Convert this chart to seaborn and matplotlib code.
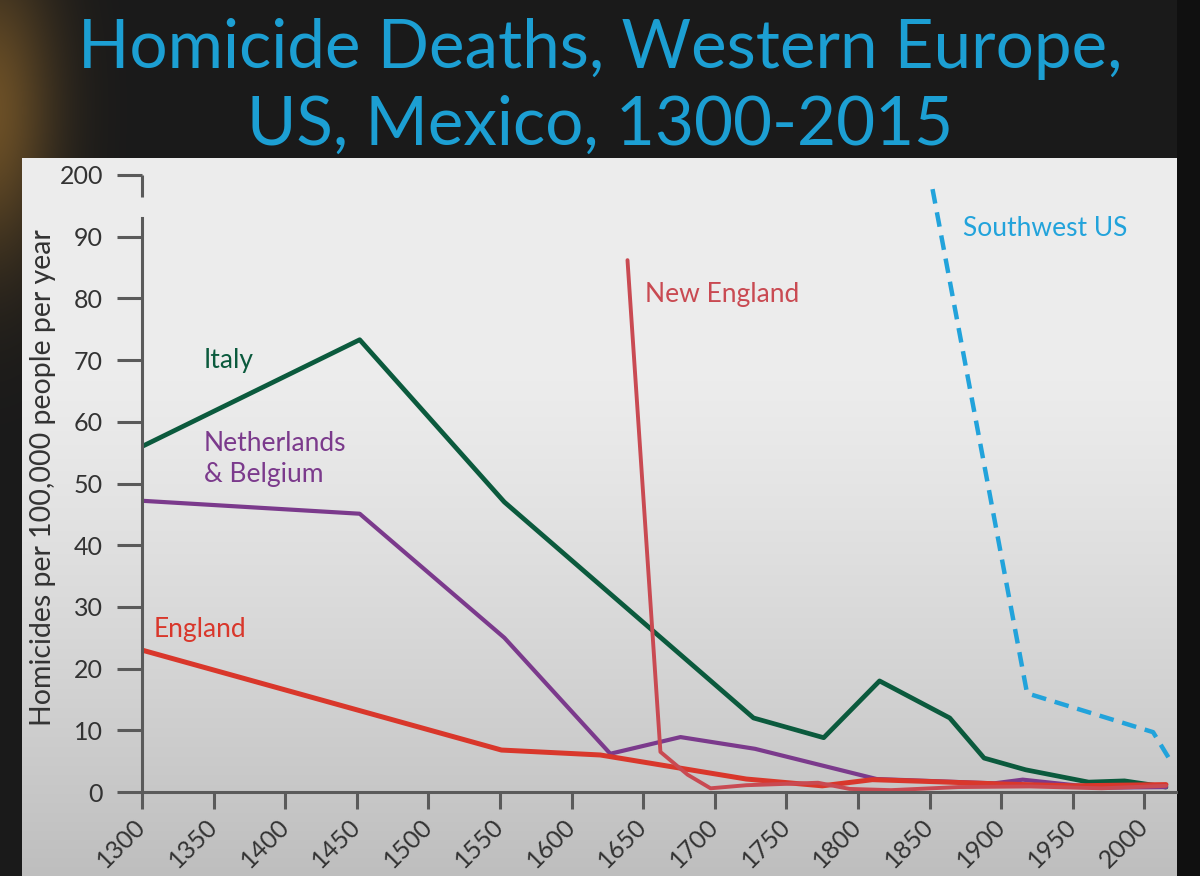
import numpy as np
import pandas as pd
import matplotlib
matplotlib.use('agg')
import matplotlib.pyplot as plt
import seaborn as sns

# values (rate per 100,000 people per year)
years_italy = [1300, 1452, 1553, 1727, 1776, 1815, 1864, 1888, 1917, 1961, 1986, 2015]
italy = [56, 73.3, 47, 12, 8.8, 18, 12, 5.5, 3.6, 1.6, 1.8, 0.8]

years_nl = [1300, 1452, 1553, 1627, 1676, 1728, 1813, 1895, 1915, 1967, 2015]
nl = [47.2, 45.1, 25, 6.2, 8.9, 7, 2.1, 1.4, 2, 0.7, 0.8]

years_eng = [1300, 1551, 1620, 1722, 1775, 1810, 1850, 1900, 1950, 2015]
eng = [23, 6.8, 6.0, 2.1, 1.0, 2.0, 1.7, 1.3, 1.0, 1.2]

years_ne = [1639, 1662, 1681, 1697, 1722, 1772, 1794, 1823, 1870, 1920, 1970, 2015]
ne = [86.2, 6.5, 2.8, 0.6, 1.1, 1.5, 0.5, 0.3, 0.8, 0.9, 0.6, 1.0]

years_sw = [1852, 1918, 2006, 2017]
sw = [165, 16, 9.7, 5.5]

yticks = [0, 10, 20, 30, 40, 50, 60, 70, 80, 90, 200]
xticks = list(range(1300, 2001, 50))

c_italy = '#0b5a3d'
c_nl = '#7b3a8c'
c_eng = '#d9372b'
c_ne = '#c94a52'
c_sw = '#22a3db'
c_axis = '#5a5a5a'

sns.set_style('ticks')
plt.rcParams['font.family'] = ['Lato', 'DejaVu Sans']

# broken y axis: 0-93 linear, 93-200 squeezed
BRK = 93.0
K = 7.0 / 107.0
def fwd(y):
    y = np.asarray(y, dtype=float)
    return np.where(y <= BRK, y, BRK + (y - BRK) * K)
def inv(d):
    d = np.asarray(d, dtype=float)
    return np.where(d <= BRK, d, BRK + (d - BRK) / K)

W, H = 1200, 876
fig = plt.figure(figsize=(12, 8.76), dpi=100)

# dark backdrop with a warm glow top-left, light panel with vertical gradient
yy, xx = np.mgrid[0:H, 0:W]
bg = np.ones((H, W, 3)) * (26 / 255)
glow = np.exp(-((xx + 10) / 65.0) ** 2 - ((yy - 110) / 150.0) ** 2)
bg[..., 0] += glow * 0.32
bg[..., 1] += glow * 0.21
bg[..., 2] += glow * 0.05
panel = (xx >= 22) & (xx < 1177) & (yy >= 158)
shade = np.clip((yy - 380) / (H - 380), 0, 1)
grey = (236 - 46 * shade ** 1.2) / 255
for i in range(3):
    bg[..., i] = np.where(panel, grey, bg[..., i])
bg[:, 1177:, :] = 16 / 255
bg_ax = fig.add_axes([0, 0, 1, 1])
bg_ax.imshow(np.clip(bg, 0, 1), aspect='auto')
bg_ax.axis('off')

ax = fig.add_axes([142 / W, 84 / H, 1034 / W, 617 / H])
ax.set_facecolor('none')
ax.set_yscale('function', functions=(fwd, inv))

sns.lineplot(x=years_italy, y=italy, ax=ax, color=c_italy, linewidth=3.4)
sns.lineplot(x=years_nl, y=nl, ax=ax, color=c_nl, linewidth=3.0)
sns.lineplot(x=years_eng, y=eng, ax=ax, color=c_eng, linewidth=3.6)
sns.lineplot(x=years_ne, y=ne, ax=ax, color=c_ne, linewidth=2.8)
sns.lineplot(x=years_sw, y=sw, ax=ax, color=c_sw, linewidth=3.2)
ax.lines[-1].set_dashes((3.3, 2.0))

ax.set_xlim(1300, 2022)
ax.set_ylim(0, 200)

ax.set_xticks(xticks)
ax.set_xticklabels([str(x) for x in xticks], rotation=45, ha='right', va='center',
                   rotation_mode='anchor', fontsize=18, color='#333333')
ax.set_yticks(yticks)
ax.set_yticklabels([str(y) for y in yticks], fontsize=18, color='#333333')
ax.yaxis.set_minor_locator(matplotlib.ticker.NullLocator())
ax.tick_params(axis='y', length=18, width=2.2, color=c_axis, pad=10)
ax.tick_params(axis='x', length=12, width=2.2, color=c_axis, pad=10)

for s in ['top', 'right']:
    ax.spines[s].set_visible(False)
ax.spines['left'].set_bounds(0, BRK)
ax.spines['left'].set_color(c_axis)
ax.spines['left'].set_linewidth(2.2)
ax.spines['bottom'].set_color(c_axis)
ax.spines['bottom'].set_linewidth(2.2)
ax.plot([1300, 1300], [145, 200], color=c_axis, lw=2.2, clip_on=False,
        solid_capstyle='butt')

ax.set_ylabel('Homicides per 100,000 people per year', fontsize=20.5, color='#333333')
ax.yaxis.set_label_coords(-0.083, 0.51)

ax.text(1343, 70, 'Italy', color=c_italy, fontsize=19, va='center')
ax.text(1343, 54, 'Netherlands\n& Belgium', color=c_nl, fontsize=19, va='center',
        linespacing=1.3)
ax.text(1308, 26.4, 'England', color=c_eng, fontsize=19, va='center')
ax.text(1651, 80.7, 'New England', color=c_ne, fontsize=19, va='center')
ax.text(1873, 91.4, 'Southwest US', color=c_sw, fontsize=19, va='center')

fig.text(0.5, 1 - 68 / H, 'Homicide Deaths, Western Europe,', ha='center',
         va='baseline', fontsize=48.5, color='#1c9fd3')
fig.text(0.5, 1 - 145 / H, 'US, Mexico, 1300-2015', ha='center',
         va='baseline', fontsize=48.5, color='#1c9fd3')

fig.savefig('out.png', dpi=100)
plt.close(fig)
